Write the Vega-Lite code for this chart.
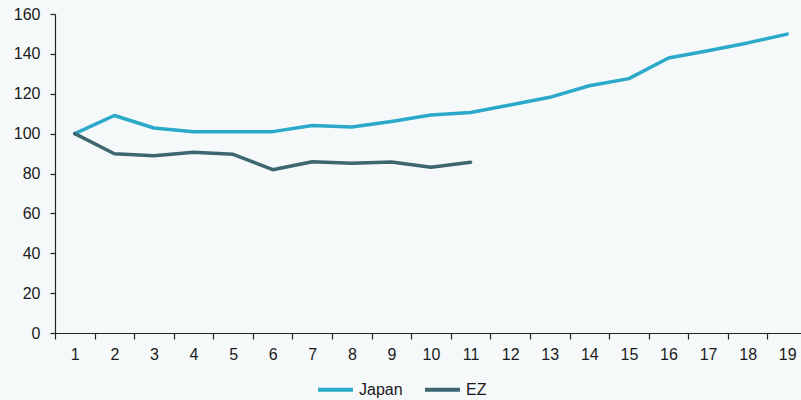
{
  "$schema": "https://vega.github.io/schema/vega-lite/v6.json",
  "width": 752,
  "height": 319,
  "autosize": {"type": "none"},
  "padding": {"left": 55, "top": 14, "right": 0, "bottom": 67},
  "background": "#f5f9fa",
  "config": {
    "view": {"stroke": null}
  },
  "data": {
    "values": [
      {"x": 1, "s": "Japan", "v": 100},
      {"x": 2, "s": "Japan", "v": 109.1},
      {"x": 3, "s": "Japan", "v": 102.8},
      {"x": 4, "s": "Japan", "v": 100.9},
      {"x": 5, "s": "Japan", "v": 100.9},
      {"x": 6, "s": "Japan", "v": 101},
      {"x": 7, "s": "Japan", "v": 104.1},
      {"x": 8, "s": "Japan", "v": 103.3},
      {"x": 9, "s": "Japan", "v": 106.1},
      {"x": 10, "s": "Japan", "v": 109.3},
      {"x": 11, "s": "Japan", "v": 110.6},
      {"x": 12, "s": "Japan", "v": 114.4},
      {"x": 13, "s": "Japan", "v": 118.2},
      {"x": 14, "s": "Japan", "v": 124},
      {"x": 15, "s": "Japan", "v": 127.6},
      {"x": 16, "s": "Japan", "v": 137.9},
      {"x": 17, "s": "Japan", "v": 141.6},
      {"x": 18, "s": "Japan", "v": 145.5},
      {"x": 19, "s": "Japan", "v": 149.9},
      {"x": 1, "s": "EZ", "v": 100},
      {"x": 2, "s": "EZ", "v": 89.9},
      {"x": 3, "s": "EZ", "v": 88.9},
      {"x": 4, "s": "EZ", "v": 90.6},
      {"x": 5, "s": "EZ", "v": 89.6},
      {"x": 6, "s": "EZ", "v": 81.9},
      {"x": 7, "s": "EZ", "v": 85.9},
      {"x": 8, "s": "EZ", "v": 85.1},
      {"x": 9, "s": "EZ", "v": 85.8},
      {"x": 10, "s": "EZ", "v": 83.1},
      {"x": 11, "s": "EZ", "v": 85.6}
    ]
  },
  "mark": {"type": "line", "strokeWidth": 3.5, "strokeCap": "round", "strokeJoin": "round"},
  "encoding": {
    "x": {
      "field": "x",
      "type": "ordinal",
      "title": null,
      "scale": {"paddingInner": 0, "paddingOuter": 0},
      "axis": {"labelAngle": 0, "tickBand": "extent", "tickSize": 6, "labelPadding": 7, "labelFont": "Liberation Sans", "labelFontSize": 16, "labelColor": "#1a1a1a", "domainColor": "#222222", "tickColor": "#222222", "domainWidth": 1.2, "tickWidth": 1.2, "grid": false}
    },
    "y": {
      "field": "v",
      "type": "quantitative",
      "title": null,
      "scale": {"domain": [0, 160], "nice": false, "zero": true},
      "axis": {"values": [0, 20, 40, 60, 80, 100, 120, 140, 160], "tickSize": 5, "labelPadding": 10, "labelFont": "Liberation Sans", "labelFontSize": 16, "labelColor": "#1a1a1a", "domainColor": "#222222", "tickColor": "#222222", "domainWidth": 1.2, "tickWidth": 1.2, "grid": false}
    },
    "color": {
      "field": "s",
      "type": "nominal",
      "sort": ["Japan", "EZ"],
      "scale": {"domain": ["Japan", "EZ"], "range": ["#2ba9c9", "#3d6670"]},
      "legend": {
        "title": null,
        "orient": "none",
        "direction": "horizontal",
        "legendX": 261,
        "legendY": 356,
        "symbolType": "stroke",
        "symbolSize": 1225,
        "symbolStrokeWidth": 4,
        "labelFontSize": 16,
        "labelColor": "#1a1a1a",
        "labelFont": "Liberation Sans",
        "columnPadding": 14,
        "labelOffset": 4
      }
    }
  }
}
